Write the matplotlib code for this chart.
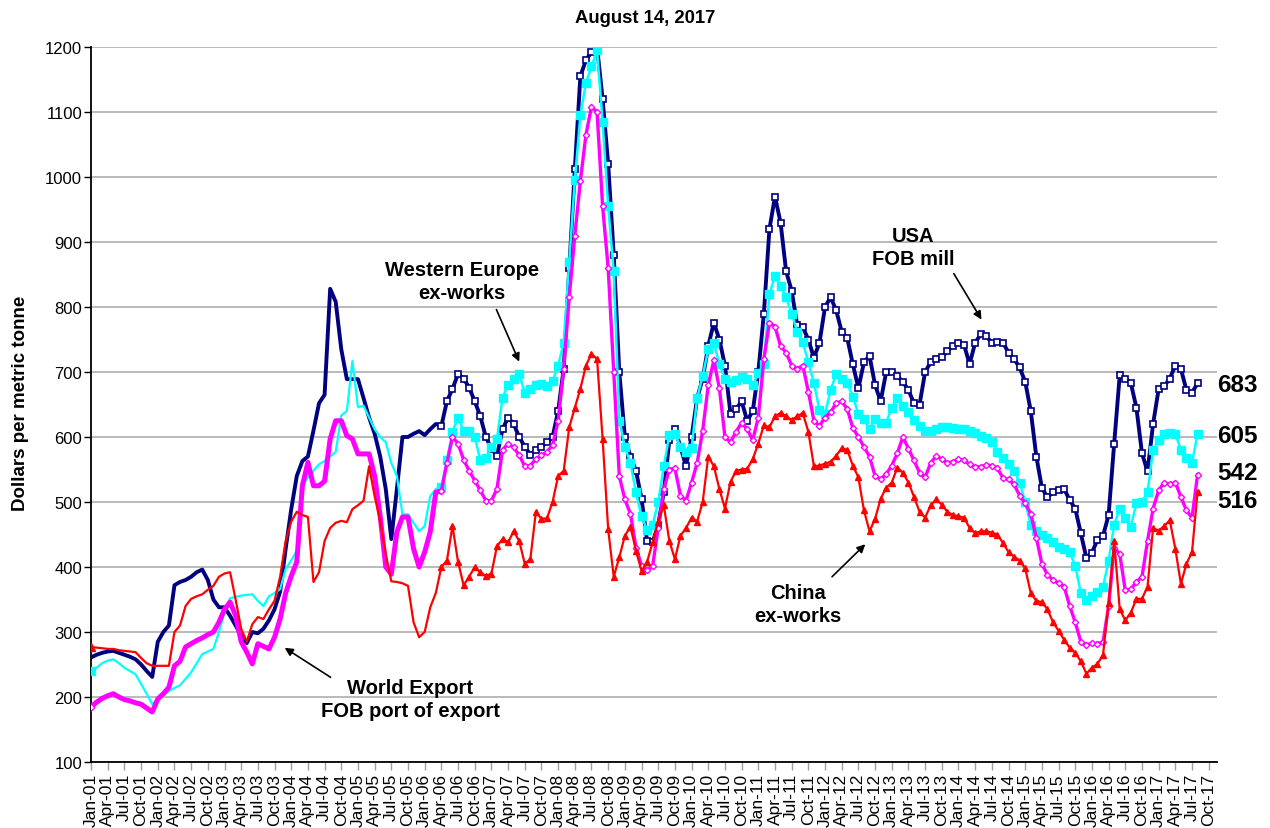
import matplotlib
matplotlib.use("Agg")
import matplotlib.pyplot as plt
import numpy as np
import pandas as pd

plt.rcParams['font.family'] = ['Liberation Sans', 'DejaVu Sans']

# month index 0 = Jan-01; early part (Jan-01 .. Apr-06) drawn as plain lines
usa_early = [261, 265, 268, 270, 271, 268, 265, 262, 258, 250, 240, 231, 285, 300, 310, 372,
             377, 380, 385, 392, 396, 380, 350, 338, 338, 325, 310, 295, 283, 300, 298, 305,
             318, 335, 362, 428, 489, 540, 563, 570, 610, 652, 665, 828, 808, 735, 689, 689,
             689, 660, 630, 605, 570, 520, 443, 520, 600, 600, 605, 609, 603, 612, 620, 617]
weu_early = [240, 245, 252, 256, 258, 252, 245, 240, 235, 220, 205, 189, 197, 203, 209, 214,
             218, 228, 238, 252, 266, 270, 274, 300, 330, 352, 354, 356, 357, 358, 348, 340,
             355, 360, 366, 397, 410, 425, 525, 538, 548, 558, 563, 570, 577, 633, 640, 717,
             646, 648, 630, 612, 600, 592, 560, 540, 481, 481, 468, 455, 463, 509, 520, 523]
world_early = [185, 192, 198, 202, 205, 200, 196, 194, 191, 189, 183, 177, 197, 205, 215, 248,
               255, 277, 282, 287, 291, 296, 300, 315, 335, 346, 325, 285, 269, 251, 282, 278,
               274, 292, 320, 360, 386, 408, 525, 561, 525, 525, 532, 597, 625, 625, 602, 597,
               574, 574, 574, 540, 478, 400, 389, 454, 477, 477, 428, 400, 423, 454, 515, 517]
china_early = [277, 276, 275, 274, 274, 272, 271, 270, 269, 260, 252, 248, 248, 248, 248, 300,
               310, 340, 351, 355, 358, 365, 371, 385, 390, 392, 350, 305, 285, 312, 323, 320,
               335, 348, 385, 440, 470, 485, 480, 477, 377, 392, 440, 460, 468, 471, 469, 489,
               495, 502, 555, 509, 470, 420, 378, 377, 375, 371, 315, 292, 300, 338, 360, 400]

# later part (Apr-06 .. Aug-17), monthly, drawn with markers
usa_late = [617, 655, 674, 697, 690, 676, 655, 632, 600, 582, 571, 612, 630, 620, 600, 585,
            573, 580, 585, 592, 600, 640, 705, 860, 1012, 1155, 1180, 1192, 1200, 1120, 1020, 880,
            700, 600, 570, 548, 505, 440, 438, 465, 515, 595, 612, 585, 555, 600, 660, 690,
            740, 776, 750, 710, 636, 643, 655, 625, 640, 700, 790, 920, 970, 930, 855, 825,
            772, 769, 750, 722, 745, 800, 815, 795, 762, 752, 712, 675, 715, 725, 680, 655,
            700, 700, 694, 685, 672, 652, 650, 700, 715, 720, 723, 732, 740, 745, 742, 712,
            745, 758, 755, 745, 746, 745, 730, 720, 707, 685, 640, 570, 522, 507, 515, 518,
            520, 503, 490, 452, 414, 422, 442, 448, 480, 590, 695, 690, 683, 645, 575, 547,
            620, 674, 678, 690, 710, 705, 672, 668, 683]
weu_late = [523, 565, 608, 630, 610, 609, 600, 565, 568, 585, 597, 660, 680, 690, 697, 668,
            674, 680, 682, 679, 686, 710, 745, 870, 995, 1095, 1145, 1170, 1195, 1085, 955, 855,
            625, 585, 560, 515, 478, 457, 465, 500, 555, 603, 605, 585, 577, 583, 660, 694,
            735, 745, 712, 690, 684, 688, 692, 689, 680, 698, 712, 820, 848, 832, 815, 790,
            762, 746, 715, 683, 642, 636, 672, 697, 690, 683, 662, 636, 627, 612, 628, 622,
            622, 645, 660, 648, 638, 626, 617, 610, 610, 613, 615, 615, 614, 612, 612, 609,
            606, 601, 598, 593, 577, 567, 558, 548, 530, 500, 465, 455, 449, 445, 438, 431,
            428, 423, 402, 360, 350, 355, 362, 369, 410, 465, 490, 475, 462, 498, 500, 515,
            580, 595, 605, 606, 605, 580, 568, 560, 605]
world_late = [517, 560, 600, 590, 565, 548, 533, 518, 502, 502, 520, 580, 590, 584, 572, 555,
              556, 566, 572, 577, 588, 625, 705, 815, 910, 994, 1065, 1108, 1100, 955, 860, 700,
              540, 504, 482, 430, 402, 395, 402, 460, 520, 550, 552, 510, 502, 530, 560, 610,
              680, 718, 675, 600, 592, 608, 622, 612, 595, 630, 720, 776, 770, 740, 730, 710,
              705, 710, 670, 625, 617, 630, 638, 652, 655, 643, 614, 600, 585, 570, 540, 535,
              543, 556, 575, 600, 582, 564, 545, 538, 560, 571, 566, 560, 562, 566, 564, 558,
              554, 554, 557, 556, 552, 537, 535, 527, 510, 498, 482, 445, 405, 388, 380, 375,
              370, 340, 315, 285, 280, 283, 282, 285, 340, 430, 420, 364, 366, 377, 385, 440,
              490, 518, 530, 527, 530, 508, 487, 476, 542]
china_late = [400, 410, 463, 408, 372, 385, 400, 392, 386, 390, 432, 443, 438, 455, 440, 405,
              412, 485, 474, 475, 500, 540, 548, 615, 645, 674, 710, 728, 720, 597, 458, 385,
              415, 448, 462, 425, 394, 408, 438, 470, 495, 440, 412, 448, 460, 476, 470, 500,
              570, 555, 520, 490, 531, 548, 550, 551, 566, 590, 618, 615, 632, 637, 632, 626,
              632, 637, 608, 555, 556, 559, 562, 571, 583, 580, 556, 538, 487, 455, 474, 505,
              522, 530, 553, 545, 530, 508, 485, 476, 495, 504, 496, 485, 480, 478, 476, 460,
              452, 455, 455, 453, 450, 437, 423, 416, 410, 398, 360, 348, 346, 335, 315, 302,
              288, 276, 268, 255, 236, 245, 251, 265, 345, 440, 335, 318, 330, 351, 351, 370,
              460, 456, 463, 472, 428, 374, 405, 423, 516]

end_labels = ['683', '605', '542', '516']
end_label_y = [681, 603, 546, 503]

tick_labels = pd.date_range('2001-01-01', '2017-10-01', freq='QS').strftime('%b-%y')

early_x = np.arange(len(usa_early))
late_x = np.arange(len(usa_early) - 1, len(usa_early) - 1 + len(usa_late))

fig = plt.figure(figsize=(12.7, 8.29), dpi=100)
ax = fig.add_axes([0.0717, 0.0796, 0.8866, 0.8625])

navy, cyan, mag, red = '#000080', '#00FFFF', '#FF00FF', '#FF0000'

# USA
ax.plot(early_x, usa_early, color=navy, lw=2.8, zorder=3)
ax.plot(late_x, usa_late, color=navy, lw=2.8, marker='s', ms=4.5, mfc='white',
        mec=navy, mew=1.2, zorder=3)
# Western Europe
ax.plot(early_x, weu_early, color=cyan, lw=1.6, zorder=4)
ax.plot(early_x[:1], weu_early[:1], 's', color=cyan, ms=6, zorder=4)
ax.plot(late_x, weu_late, color=cyan, lw=1.8, marker='s', ms=5.5, mfc=cyan, mec=cyan, zorder=4)
# World export
ax.plot(early_x, world_early, color=mag, lw=3.6, zorder=5)
ax.plot(early_x[:1], world_early[:1], 'D', ms=3.5, mfc='white', mec=mag, mew=1, zorder=5)
ax.plot(late_x, world_late, color=mag, lw=2.4, marker='D', ms=3.2, mfc='white',
        mec=mag, mew=1, zorder=5)
# China
ax.plot(early_x, china_early, color=red, lw=1.6, zorder=6)
ax.plot(early_x[:1], china_early[:1], '^', color=red, ms=6, zorder=6)
ax.plot(late_x, china_late, color=red, lw=1.6, marker='^', ms=5, zorder=6)

ax.set_xlim(0, 202.5)
ax.set_ylim(100, 1200)
ax.set_yticks(np.arange(100, 1201, 100))
ax.set_xticks(np.arange(0, 3 * len(tick_labels), 3))
ax.set_xticklabels(tick_labels, rotation=90, fontsize=12.5)
ax.tick_params(axis='y', labelsize=12, length=5, width=1, direction='out', pad=1.5)
ax.tick_params(axis='x', length=6, width=1, color='#a0a0a0', direction='out', pad=2)
ax.yaxis.grid(True, color='#b4b4b4', lw=1.3)
ax.set_axisbelow(True)
for s in ['top', 'right']:
    ax.spines[s].set_visible(False)
ax.spines['left'].set_linewidth(1.3)
ax.spines['bottom'].set_linewidth(1.3)

fig.text(0.508, 0.978, 'August 14, 2017', ha='center', va='center', fontsize=13.3, fontweight='bold')
fig.text(0.016, 0.513, 'Dollars per metric tonne', rotation=90, ha='center', va='center',
         fontsize=13.5, fontweight='bold')

# annotations
arrow = dict(arrowstyle='-|>', color='black', lw=1.2, mutation_scale=12)
fs = 14.5
ls = 1.25
ax.text(66.7, 840, 'Western Europe\nex-works', ha='center', va='center', fontsize=fs,
        fontweight='bold', linespacing=ls)
ax.annotate('', xy=(77.2, 712), xytext=(72.7, 800), arrowprops=arrow)
ax.text(147.8, 892, 'USA\nFOB mill', ha='center', va='center', fontsize=fs,
        fontweight='bold', linespacing=ls)
ax.annotate('', xy=(160.4, 777), xytext=(154.9, 855), arrowprops=arrow)
ax.text(127.2, 343, 'China\nex-works', ha='center', va='center', fontsize=fs,
        fontweight='bold', linespacing=ls)
ax.annotate('', xy=(139.6, 438), xytext=(132.9, 382), arrowprops=arrow)
ax.text(57.4, 197, 'World Export\nFOB port of export', ha='center', va='center', fontsize=fs,
        fontweight='bold', linespacing=ls)
ax.annotate('', xy=(34.4, 278), xytext=(43.5, 228), arrowprops=arrow)

for lab, yv in zip(end_labels, end_label_y):
    ax.text(202.6, yv, lab, ha='left', va='center', fontsize=17.5, fontweight='bold', clip_on=False)

fig.savefig('out.png', dpi=100)
